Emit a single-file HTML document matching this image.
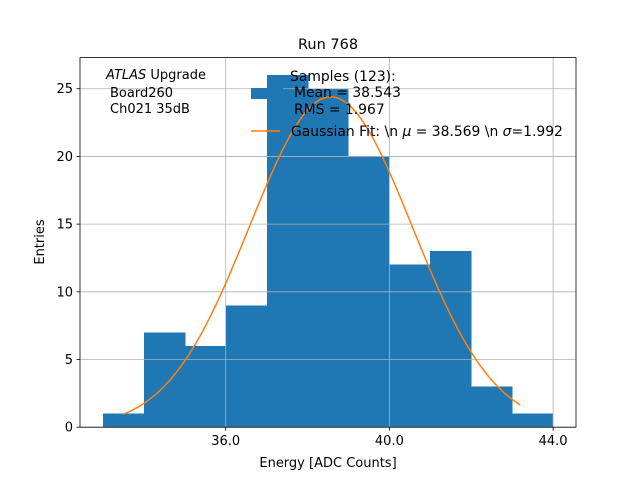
<!DOCTYPE html>
<html><head><meta charset="utf-8">
<style>
body{margin:0;background:#fff;}
svg text{font-family:"DejaVu Sans","Liberation Sans",sans-serif;fill:#000;}
</style></head>
<body>
<svg id="chart" width="640" height="480" xmlns="http://www.w3.org/2000/svg">
<rect width="640" height="480" fill="#fff"/>
<g id="bars" shape-rendering="crispEdges"></g>
<g id="grid"></g>
<path id="fit" fill="none" stroke="#ff7f0e" stroke-width="1.5"/>
<rect x="80" y="57.6" width="496" height="369.6" fill="none" stroke="#000" stroke-width="0.8"/>
<g id="ticks"></g>
<text x="328" y="49" font-size="14.5" text-anchor="middle">Run 768</text>
<text x="328" y="467" font-size="13" text-anchor="middle">Energy [ADC Counts]</text>
<text transform="translate(44,242) rotate(-90)" font-size="13" text-anchor="middle">Entries</text>
<g font-size="13">
<text x="106" y="79"><tspan font-style="italic">ATLAS</tspan> Upgrade</text>
<text x="110" y="97">Board260</text>
<text x="110" y="113">Ch021 35dB</text>
</g>
<g font-size="13.9">
<rect x="251" y="88" width="32" height="11" fill="#1f77b4"/>
<text x="290" y="81">Samples (123):</text>
<text x="294" y="97">Mean = 38.543</text>
<text x="294" y="114">RMS = 1.967</text>
<line x1="251" y1="131" x2="280" y2="131" stroke="#ff7f0e" stroke-width="1.5"/>
<text x="291" y="136">Gaussian Fit: \n <tspan font-style="italic">μ</tspan> = 38.569 \n <tspan font-style="italic">σ</tspan>=1.992</text>
</g>
</svg>
<script>
const binEdges=[33,34,35,36,37,38,39,40,41,42,43,44];
const counts=[1,7,6,9,26,25,20,12,13,3,1];
const xTicks=[36,40,44];
const xTickLabels=["36.0","40.0","44.0"];
const yTicks=[0,5,10,15,20,25];
const fitMu=38.569, fitSigma=1.992, fitAmp=24.4, fitStart=33.5, fitEnd=43.2;

const NS="http://www.w3.org/2000/svg";
const X0=80,X1=576,Y0=427.2,Y1=57.6;
const xmin=32.44,xmax=44.56,ymin=0,ymax=27.3;
const sx=v=>X0+(v-xmin)/(xmax-xmin)*(X1-X0);
const sy=v=>Y0-(v-ymin)/(ymax-ymin)*(Y0-Y1);
function mk(tag,attrs,parent){const e=document.createElementNS(NS,tag);for(const k in attrs)e.setAttribute(k,attrs[k]);parent.appendChild(e);return e;}
const grid=document.getElementById('grid'),bars=document.getElementById('bars'),ticks=document.getElementById('ticks');
xTicks.forEach((t,i)=>{
  const x=sx(t);
  const g=mk('line',{x1:x,x2:x,y1:Y1,y2:Y0,stroke:'#b0b0b0','stroke-width':0.8},grid);
  
  
  mk('line',{x1:x,x2:x,y1:Y0,y2:Y0+3.5,stroke:'#000','stroke-width':0.8},ticks);
  const tx=mk('text',{x:x,y:Y0+18,'font-size':13,'text-anchor':'middle'},ticks);
  tx.textContent=xTickLabels[i];
  
  
});
yTicks.forEach(t=>{
  const y=sy(t);
  const g=mk('line',{x1:X0,x2:X1,y1:y,y2:y,stroke:'#b0b0b0','stroke-width':0.8},grid);
  
  
  mk('line',{x1:X0-3.5,x2:X0,y1:y,y2:y,stroke:'#000','stroke-width':0.8},ticks);
  const tx=mk('text',{x:X0-7,y:y+4.5,'font-size':13,'text-anchor':'end'},ticks);
  tx.textContent=String(t);
  
  
});
counts.forEach((c,i)=>{
  const xa=Math.round(sx(binEdges[i])),xb=Math.round(sx(binEdges[i+1]));
  const r=mk('rect',{x:xa,y:sy(c),width:xb-xa+0.5,height:sy(0)-sy(c),fill:'#1f77b4'},bars);
  
  
});
let d='';
for(let i=0;i<=200;i++){
  const v=fitStart+(fitEnd-fitStart)*i/200;
  const yv=fitAmp*Math.exp(-Math.pow(v-fitMu,2)/(2*fitSigma*fitSigma));
  d+=(i?'L':'M')+sx(v).toFixed(2)+','+sy(yv).toFixed(2);
}
document.getElementById('fit').setAttribute('d',d);
</script>
</body></html>
